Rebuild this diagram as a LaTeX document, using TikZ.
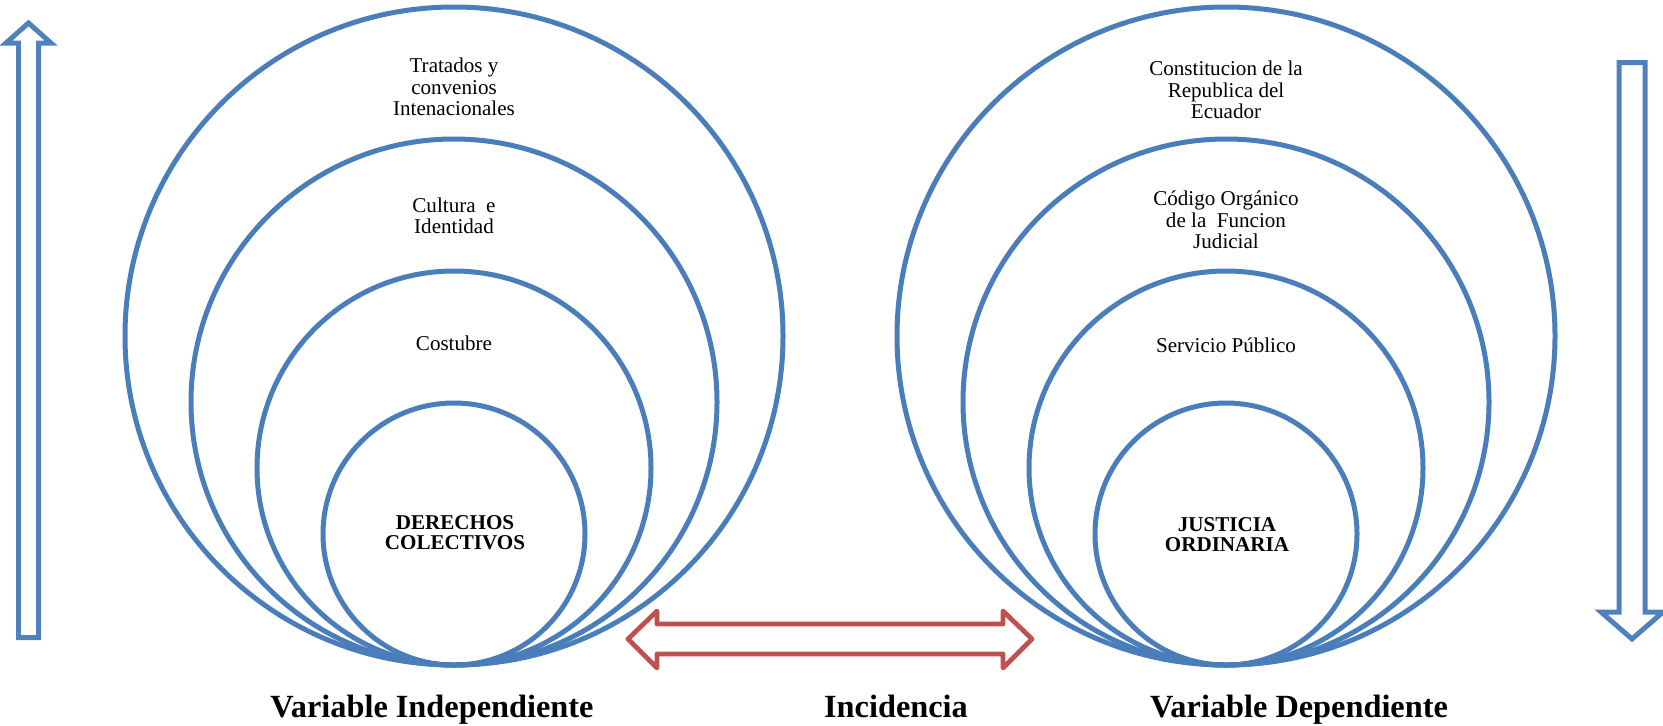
\documentclass[tikz,border=0pt]{standalone}
\usepackage{fontspec}
\setmainfont{Liberation Serif}
\usetikzlibrary{calc}
\definecolor{ringblue}{HTML}{4A7EBB}
\definecolor{arrowblue}{HTML}{4F81BD}
\definecolor{arrowred}{HTML}{C0504D}
\tikzset{
	ring/.style={draw=ringblue, line width=0.1cm},
	lbl/.style={align=center, inner sep=0pt, font=\fontsize{12}{12.2}\selectfont},
	core/.style={lbl, font=\fontsize{12}{11.5}\selectfont\bfseries},
	varlbl/.style={anchor=base, inner sep=0pt, font=\fontsize{18.4}{20}\selectfont\bfseries},
	blockarrow/.style={draw=arrowblue, line width=0.1cm, line join=miter},
	redarrow/.style={draw=arrowred, line width=0.095cm, line join=round, line cap=round},
}

\begin{document}
\begin{tikzpicture}[x=0.02cm, y=-0.02cm]
		\useasboundingbox (0,0) rectangle (1663,725);
		\def\yb{665}
		% the rings on the left
		\coordinate (L) at (454,\yb);
		\foreach \r in {329,263,197,131} \draw[ring] ($(L)+(0,-\r)$) circle (\r);
		\node[lbl] (tratados) at (454,87) {Tratados y\\convenios\\Intenacionales};
		\node[lbl] (cultura) at (454,216) {Cultura~ e\\Identidad};
		\node[lbl] (costubre) at (454,343) {Costubre};
		\node[core] (derechos) at (455,533) {DERECHOS\\COLECTIVOS};
		% the rings on the right
		\coordinate (R) at (1226,\yb);
		\foreach \r in {329,263,197,131} \draw[ring] ($(R)+(0,-\r)$) circle (\r);
		\node[lbl] (constitucion) at (1226,90) {Constitucion de la\\Republica del\\Ecuador};
		\node[lbl] (codigo) at (1226,220) {Código Orgánico\\de la~ Funcion\\Judicial};
		\node[lbl] (servicio) at (1226,345) {Servicio Público};
		\node[core] (justicia) at (1227,535) {JUSTICIA\\ORDINARIA};
		% side arrows
		\draw[blockarrow] (18.5,637.5) -- (18.5,43) -- (6,43) -- (28.5,23) -- (51,43)
			-- (38.5,43) -- (38.5,637.5) -- cycle;
		\draw[blockarrow] (1619,62.5) -- (1645,62.5) -- (1645,612) -- (1663,612)
			-- (1632,639) -- (1601,612) -- (1619,612) -- cycle;
		% incidence
		\draw[redarrow] (628,639) -- (657,611) -- (657,624) -- (1003,624) -- (1003,611)
			-- (1032,639) -- (1003,668) -- (1003,654) -- (657,654) -- (657,668) -- cycle;
		% captions
		\node[varlbl] (indep) at (432,717) {Variable Independiente};
		\node[varlbl] (incid) at (896,717) {Incidencia};
		\node[varlbl] (dep) at (1299,717) {Variable Dependiente};
	\end{tikzpicture}
\end{document}
